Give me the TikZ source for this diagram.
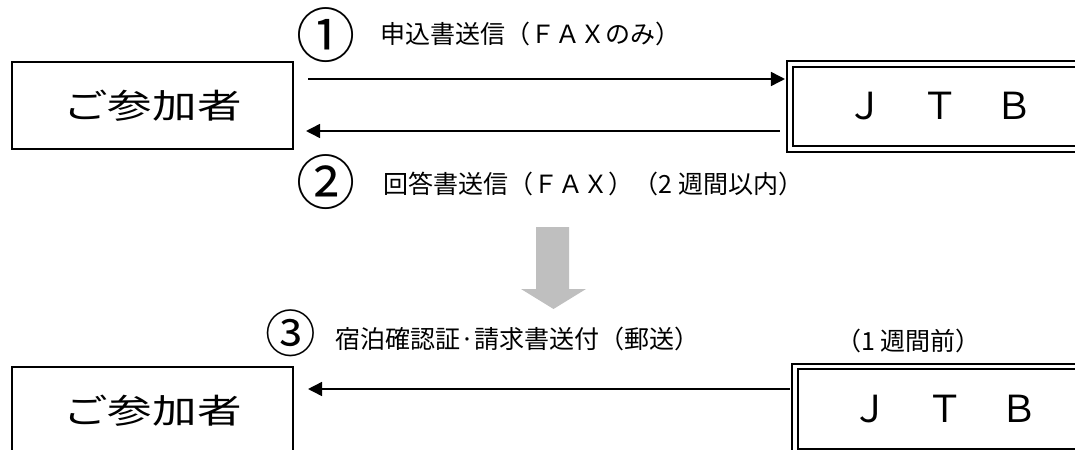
\documentclass[tikz,border=0pt]{standalone}
\usepackage{fontspec}
\usepackage{graphicx}
\newfontfamily\jpfont{Noto Sans CJK JP}
\newcommand{\widetext}[1]{\scalebox{1.32}[1]{#1}}
\definecolor{flowgray}{RGB}{191,191,191}
\usetikzlibrary{arrows.meta,positioning,calc}

\begin{document}
\begin{tikzpicture}
[x=0.025cm,y=0.025cm,
party/.style={draw=black,line width=1.4pt,minimum width=7.025cm,minimum height=2.175cm,inner sep=0pt,
  font=\jpfont\fontsize{24pt}{28pt}\selectfont},
agent/.style={draw=black,double,line width=1.4pt,double distance=2.8pt,minimum width=7.5cm,minimum height=2.125cm,inner sep=0pt,
  font=\jpfont\fontsize{26.5pt}{30pt}\selectfont},
num/.style={inner sep=0pt,font=\jpfont\fontsize{42pt}{46pt}\selectfont},
msg/.style={anchor=west,inner sep=0pt,font=\jpfont\fontsize{17.8pt}{20pt}\selectfont},
link/.style={line width=1.1pt,-{Triangle[length=10pt,width=10pt]}}]
\useasboundingbox (0,0) rectangle (1075,449);
\clip (0,0) rectangle (1075,449);

% step 1 and 2
\node[party] (p1) at (152.5,343.5) {\widetext{ご参加者}};
\node[agent] (j1) at (940,342.5) {Ｊ　Ｔ　Ｂ};
\draw[link] ($(p1.east)+(14,26.5)$) -- ($(j1.west)+(-4,27.5)$);
\draw[link] ($(j1.west)+(-9,-24.5)$) -- ($(p1.east)+(12,-25.5)$);
\node[num] (n1) at (326,414) {①};
\node[msg] (m1) at (380,415) {申込書送信（ＦＡＸのみ）};
\node[num] (n2) at (326,267) {②};
\node[msg] (m2) at (383,265) {回答書送信（ＦＡＸ）（2 週間以内）};

% gray arrow
\fill[flowgray] (536,222) -- (569,222) -- (569,160) -- (586,160) -- (553.5,140) -- (521,160) -- (536,160) -- cycle;

% step 3
\node[party] (p2) at (152.5,38.5) {\widetext{ご参加者}};
\node[agent] (j2) at (945,40) {Ｊ　Ｔ　Ｂ};
\draw[link] ($(j2.west)+(-4,20)$) -- ($(p2.east)+(14,21.5)$);
\node[num,font=\jpfont\fontsize{36pt}{40pt}\selectfont] (n3) at (291,116) {③};
\node[msg] (m3) at (335,110) {宿泊確認証·請求書送付（郵送）};
\node[msg] (m4) at (836,108) {（1 週間前）};
\end{tikzpicture}
\end{document}
